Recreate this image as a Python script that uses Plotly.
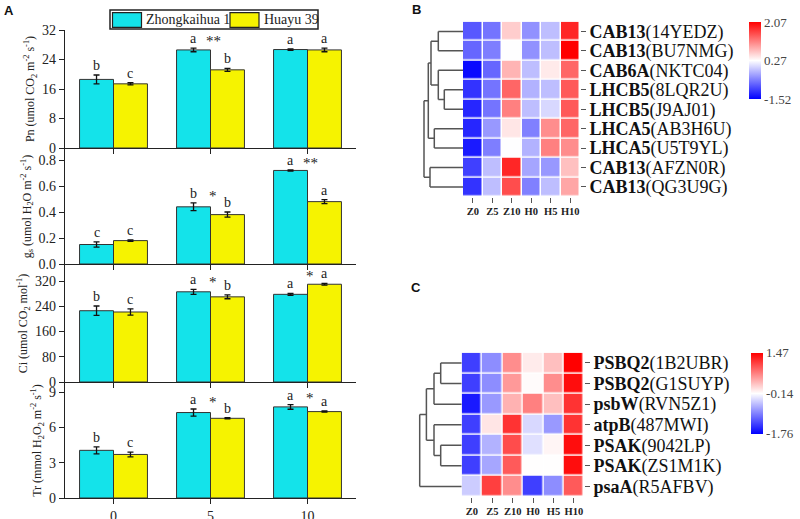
import plotly.graph_objects as go

# ---------------- Panel A data ----------------
groups = ["0", "5", "10"]
series_names = ["Zhongkaihua 1", "Huayu 39"]
series_colors = ["#14E3EA", "#F6F300"]

pn_zh = [18.6, 26.6, 26.7]
pn_zh_err = [1.2, 0.5, 0.2]
pn_hy = [17.4, 21.2, 26.6]
pn_hy_err = [0.3, 0.4, 0.5]
pn_let_zh = ["b", "a", "a"]
pn_let_hy = ["c", "b", "a"]
pn_stars = ["", "**", ""]

gs_zh = [0.15, 0.44, 0.72]
gs_zh_err = [0.02, 0.03, 0.005]
gs_hy = [0.18, 0.38, 0.48]
gs_hy_err = [0.006, 0.02, 0.015]
gs_let_zh = ["c", "b", "a"]
gs_let_hy = ["c", "b", "a"]
gs_stars = ["", "*", "**"]

ci_zh = [226, 286, 278]
ci_zh_err = [15, 8, 3]
ci_hy = [222, 270, 310]
ci_hy_err = [10, 6, 3]
ci_let_zh = ["b", "a", "a"]
ci_let_hy = ["c", "b", "a"]
ci_stars = ["", "*", "*"]

tr_zh = [4.05, 7.26, 7.74]
tr_zh_err = [0.3, 0.3, 0.2]
tr_hy = [3.7, 6.77, 7.34]
tr_hy_err = [0.2, 0.05, 0.05]
tr_let_zh = ["b", "a", "a"]
tr_let_hy = ["c", "b", "a"]
tr_stars = ["", "*", "*"]

pn_ticks = [0, 8, 16, 24, 32]
gs_ticks = [0.0, 0.2, 0.4, 0.6, 0.8]
ci_ticks = [0, 80, 160, 240, 320]
tr_ticks = [0, 3, 6, 9]

pn_title = "Pn (umol CO<sub>2</sub> m<sup>-2</sup> s<sup>-1</sup>)"
gs_title = "g<sub>s</sub> (umol H<sub>2</sub>O m<sup>-2</sup> s<sup>-1</sup>)"
ci_title = "Ci (umol CO<sub>2</sub> mol<sup>-1</sup>)"
tr_title = "Tr (mmol H<sub>2</sub>O<sub>2</sub> m<sup>-2</sup> s<sup>-1</sup>)"

# ---------------- Heatmap B data ----------------
samples = ["Z0", "Z5", "Z10", "H0", "H5", "H10"]
b_genes = ["CAB13", "CAB13", "CAB6A", "LHCB5", "LHCB5", "LHCA5", "LHCA5", "CAB13", "CAB13"]
b_ids = ["14YEDZ", "BU7NMG", "NKTC04", "8LQR2U", "J9AJ01", "AB3H6U", "U5T9YL", "AFZN0R", "QG3U9G"]
b_values = [
    [-0.90, -0.70, 0.63, -0.50, -0.18, 1.80],
    [-0.80, -0.63, 0.27, -0.50, -0.18, 2.07],
    [-1.45, -0.80, 0.80, -0.18, 0.42, 1.35],
    [-1.16, -0.70, 1.35, -0.27, -0.18, 1.44],
    [-1.25, -0.70, 1.17, -0.18, 0.00, 1.44],
    [-1.25, -0.45, 0.45, -0.62, 1.08, 1.35],
    [-1.34, -0.63, 0.27, -0.27, 1.17, 1.08],
    [-1.07, -0.18, 1.80, -0.36, -0.45, 0.72],
    [-1.16, -0.18, 1.53, -0.62, -0.18, 0.90],
]
b_zmin, b_zmid, b_zmax = -1.52, 0.27, 2.07
# linkage: (child_a, child_b, distance); leaves 0..8, clusters 9..
b_linkage = [(0, 1, 24.7), (3, 4, 18.7), (2, 10, 24.7), (9, 11, 32.0),
             (5, 6, 28.7), (12, 13, 34.7), (7, 8, 33.0), (14, 15, 39.0)]

# ---------------- Heatmap C data ----------------
c_genes = ["PSBQ2", "PSBQ2", "psbW", "atpB", "PSAK", "PSAK", "psaA"]
c_ids = ["1B2UBR", "G1SUYP", "RVN5Z1", "487MWI", "9042LP", "ZS1M1K", "R5AFBV"]
c_values = [
    [-1.36, -0.87, 0.58, -0.02, 0.26, 1.47],
    [-1.36, -0.87, 0.50, -0.12, 0.58, 1.39],
    [-1.60, -0.79, 0.34, 0.66, 0.26, 1.15],
    [-1.36, 0.02, 1.15, -0.39, -0.79, 1.15],
    [-1.36, -0.63, 0.99, -0.34, -0.08, 1.39],
    [-1.36, -0.71, 0.90, -0.14, -0.14, 1.39],
    [-0.47, 1.07, 0.58, -1.36, -0.87, 0.90],
]
c_zmin, c_zmid, c_zmax = -1.76, -0.14, 1.47
c_linkage = [(0, 1, 21.0), (7, 2, 27.7), (4, 5, 21.0), (3, 9, 27.7),
             (8, 10, 35.3), (11, 6, 42.0)]

SERIF = "Liberation Serif"
SANS = "Liberation Sans"
W, H = 800, 519

fig = go.Figure()


def px_x(p):
    return p / W


def px_y(p):
    return 1 - p / H


# ---------------- Panel A ----------------
panels = [
    (pn_zh, pn_zh_err, pn_hy, pn_hy_err, pn_let_zh, pn_let_hy, pn_stars, pn_ticks, [0, 32], pn_title, (30, 148), ".0f"),
    (gs_zh, gs_zh_err, gs_hy, gs_hy_err, gs_let_zh, gs_let_hy, gs_stars, gs_ticks, [0, 0.885], gs_title, (149, 264), ".1f"),
    (ci_zh, ci_zh_err, ci_hy, ci_hy_err, ci_let_zh, ci_let_hy, ci_stars, ci_ticks, [0, 371], ci_title, (265, 382), ".0f"),
    (tr_zh, tr_zh_err, tr_hy, tr_hy_err, tr_let_zh, tr_let_hy, tr_stars, tr_ticks, [0, 9.77], tr_title, (383, 498), ".0f"),
]

bar_dom = [px_x(65), px_x(356)]
annotations = []
shapes = []
layout_axes = {}
for i, (zh, zhe, hy, hye, lz, lh, st, ticks, rng, title, (top, bot), fmt) in enumerate(panels):
    k = i + 1
    xa = "x" if k == 1 else f"x{k}"
    ya = "y" if k == 1 else f"y{k}"
    for j, (vals, errs, name, col) in enumerate(
            [(zh, zhe, series_names[0], series_colors[0]), (hy, hye, series_names[1], series_colors[1])]):
        fig.add_trace(go.Bar(
            x=groups, y=vals, name=name, offsetgroup=str(j),
            marker=dict(color=col, line=dict(color="#333333", width=1)),
            error_y=dict(type="data", array=errs, visible=True, color="#111111", thickness=1.3, width=3),
            showlegend=False, legendgroup=name,
            xaxis=xa, yaxis=ya,
        ))
    off = 0.175
    for g in range(len(groups)):
        annotations.append(dict(x=g - off, y=zh[g] + zhe[g], xref=xa, yref=ya, text=lz[g],
                                showarrow=False, yanchor="bottom", yshift=0,
                                font=dict(family=SERIF, size=14, color="#222")))
        annotations.append(dict(x=g + off, y=hy[g] + hye[g], xref=xa, yref=ya, text=lh[g],
                                showarrow=False, yanchor="bottom", yshift=0,
                                font=dict(family=SERIF, size=14, color="#222")))
        if st[g]:
            annotations.append(dict(x=g + 0.03, y=max(zh[g] + zhe[g], hy[g] + hye[g]), xref=xa, yref=ya,
                                    text=st[g], showarrow=False, yanchor="bottom", yshift=-3,
                                    font=dict(family=SERIF, size=15, color="#222")))
    layout_axes["xaxis" if k == 1 else f"xaxis{k}"] = dict(
        domain=bar_dom, anchor=ya, type="category", categoryorder="array", categoryarray=groups,
        range=[-0.5, 2.5], showline=True, linecolor="#222", linewidth=1.2,
        ticks="outside", ticklen=5, tickcolor="#222", tickwidth=1.2, automargin=False,
        showticklabels=(k == 4), tickfont=dict(family=SERIF, size=14, color="#222"),
        showgrid=False, zeroline=False,
    )
    layout_axes["yaxis" if k == 1 else f"yaxis{k}"] = dict(
        domain=[px_y(bot), px_y(top)], anchor=xa, range=rng, tickvals=ticks, tickformat=fmt,
        showline=True, linecolor="#222", linewidth=1.2, ticks="outside", ticklen=5,
        tickcolor="#222", tickwidth=1.2, showgrid=False, zeroline=False, automargin=False,
        tickfont=dict(family=SERIF, size=14, color="#222"),
        title=dict(text=title, font=dict(family=SERIF, size=12, color="#222"), standoff=4),
    )

fig.update_layout(barmode="group", bargap=0.3, bargroupgap=0)

# ---------------- custom legend box (panel A) ----------------
shapes.append(dict(type="rect", xref="paper", yref="paper", x0=px_x(110), x1=px_x(318),
                   y0=px_y(29), y1=px_y(10), line=dict(color="#222", width=1.5), fillcolor="white"))
leg_items = [(112.5, 144), (230, 262)]
for (sx, tx), name, col in zip(leg_items, series_names, series_colors):
    shapes.append(dict(type="rect", xref="paper", yref="paper", x0=px_x(sx), x1=px_x(sx + 29),
                       y0=px_y(27.3), y1=px_y(12.7), line=dict(color="#222", width=1.2), fillcolor=col))
    annotations.append(dict(x=px_x(tx), y=px_y(19.5), xref="paper", yref="paper", text=name,
                            showarrow=False, xanchor="left", yanchor="middle",
                            font=dict(family=SERIF, size=14, color="#222")))


# ---------------- Dendrogram helper ----------------
def dendro_lines(n_leaves, linkage):
    pos = {i: float(i) for i in range(n_leaves)}
    hgt = {i: 0.0 for i in range(n_leaves)}
    xs, ys = [], []
    for m, (a, b, d) in enumerate(linkage):
        cid = n_leaves + m
        for c in (a, b):
            xs += [hgt[c], d, None]
            ys += [pos[c], pos[c], None]
        xs += [d, d, None]
        ys += [pos[a], pos[b], None]
        pos[cid] = (pos[a] + pos[b]) / 2
        hgt[cid] = d
    return xs, ys


colorscale = [[0, "#0000FF"], [0.5, "#FFFFFF"], [1, "#FF0000"]]


def add_heatmap(values, genes, ids, zmin, zmid, zmax, linkage, xa_h, ya_h, xa_d,
                hx_dom, hy_dom, dx_dom, dmax, cb_top, cb_len, cb_x):
    n = len(values)
    labels = [f"<b>{g}</b>({i})" for g, i in zip(genes, ids)]
    fig.add_trace(go.Heatmap(
        z=values, x=list(range(len(samples))), y=list(range(n)),
        zmin=zmin, zmax=zmax, colorscale=colorscale, xgap=1.5, ygap=1.5,
        xaxis=xa_h, yaxis=ya_h, showscale=True,
        colorbar=dict(x=cb_x, xanchor="left", y=cb_top, yanchor="top", len=cb_len, lenmode="fraction",
                      thickness=12, outlinewidth=0, ticks="", ypad=0, xpad=0,
                      tickvals=[zmin, zmid, zmax],
                      ticktext=[f"{zmin:.2f}", f"{zmid:.2f}", f"{zmax:.2f}"],
                      tickfont=dict(family=SERIF, size=13, color="#444")),
    ))
    dxs, dys = dendro_lines(n, linkage)
    fig.add_trace(go.Scatter(x=dxs, y=dys, mode="lines", line=dict(color="#555555", width=1.5),
                             xaxis=xa_d, yaxis=ya_h, showlegend=False, hoverinfo="skip"))
    kx = xa_h.replace("x", "xaxis")
    ky = ya_h.replace("y", "yaxis")
    kd = xa_d.replace("x", "xaxis")
    layout_axes[kx] = dict(domain=hx_dom, anchor=ya_h, range=[-0.5, len(samples) - 0.5],
                           tickvals=list(range(len(samples))), ticktext=[f"<b>{s}</b>" for s in samples],
                           ticks="outside", ticklen=5, tickcolor="#555", showgrid=False, zeroline=False,
                           showline=False, tickangle=0, automargin=False,
                           tickfont=dict(family=SERIF, size=10.5, color="#222"))
    layout_axes[ky] = dict(domain=hy_dom, anchor=xa_h, side="right", range=[n - 0.5, -0.5],
                           tickvals=list(range(n)), ticktext=labels, ticks="outside", ticklen=5,
                           tickcolor="#555", showgrid=False, zeroline=False, showline=False,
                           automargin=False, tickfont=dict(family=SERIF, size=18, color="#111"))
    layout_axes[kd] = dict(domain=dx_dom, anchor=ya_h, range=[dmax, 0], visible=False,
                           showgrid=False, zeroline=False)


add_heatmap(b_values, b_genes, b_ids, b_zmin, b_zmid, b_zmax, b_linkage, "x5", "y5", "x6",
            [px_x(463), px_x(580)], [px_y(196.7), px_y(21.7)], [px_x(418), px_x(463)], 45,
            px_y(22), 77 / H, px_x(749))
add_heatmap(c_values, c_genes, c_ids, c_zmin, c_zmid, c_zmax, c_linkage, "x7", "y7", "x8",
            [px_x(461.7), px_x(584)], [px_y(496.7), px_y(352.7)], [px_x(418), px_x(461.7)], 43.7,
            px_y(352.7), 81 / H, px_x(751))

# panel letters
for txt, xp, yp in [("A", 8.5, 10.5), ("B", 416, 10), ("C", 416, 288)]:
    annotations.append(dict(x=px_x(xp), y=px_y(yp), xref="paper", yref="paper", text=f"<b>{txt}</b>",
                            showarrow=False, xanchor="center", yanchor="middle",
                            font=dict(family=SANS, size=13, color="#111")))

fig.update_layout(
    width=W, height=H, margin=dict(l=0, r=0, t=0, b=0, autoexpand=False),
    paper_bgcolor="white", plot_bgcolor="white",
    annotations=annotations, shapes=shapes, showlegend=False,
    **layout_axes,
)

fig.write_html("out.html", config={"displayModeBar": False},
               post_script="document.body.style.margin='0';document.body.style.overflow='hidden';")
